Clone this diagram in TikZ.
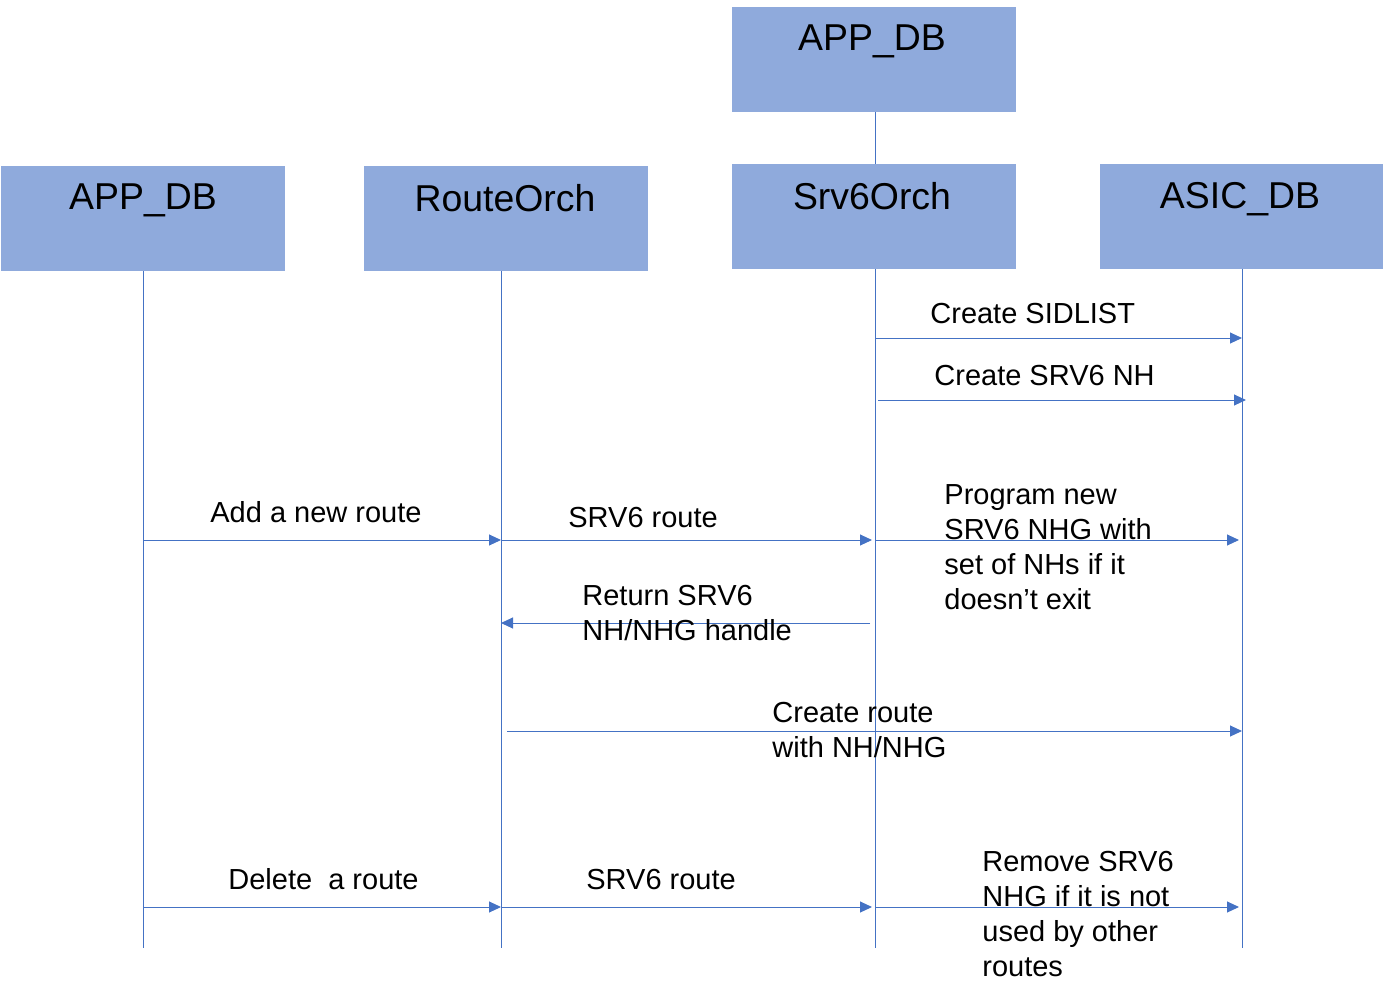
\documentclass[tikz,border=0pt]{standalone}
\usepackage{fontspec}
\setmainfont{Liberation Sans}
\usetikzlibrary{arrows.meta}
\definecolor{boxblue}{HTML}{8FAADC}
\definecolor{lineblue}{HTML}{4472C4}
\tikzset{
  actor/.style={fill=boxblue, minimum width=142pt, minimum height=52.5pt, inner sep=0pt},
  title/.style={font=\fontsize{18.7}{22}\selectfont, anchor=north},
  life/.style={draw=lineblue, line width=0.5pt},
  msg/.style={draw=lineblue, line width=0.5pt, -{Triangle[length=6pt,width=5.5pt]}},
  lbl/.style={font=\fontsize{14.5}{17.5}\selectfont, inner sep=0pt, align=left}
}
\begin{document}
\begin{tikzpicture}[x=0.5pt,y=-0.5pt]
\useasboundingbox (0,0) rectangle (1383,1002);
% boxes
\node[actor] (appTop) at (874,59.5) {};
\node[actor] (app) at (143,218.5) {};
\node[actor] (route) at (506,218.5) {};
\node[actor] (srv) at (874,216.5) {};
\node[actor] (asic) at (1241.5,216.5) {};
\node[title] (tAppTop) at (872,18) {APP\_DB};
\node[title] (tApp) at (143,177) {APP\_DB};
\node[title] (tRoute) at (505,177) {RouteOrch};
\node[title] (tSrv) at (872,175) {Srv6Orch};
\node[title] (tAsic) at (1240,175) {ASIC\_DB};
% lifelines
\coordinate (appE) at (143,948);
\coordinate (routeE) at (501,948);
\coordinate (srvE) at (875,948);
\coordinate (asicE) at (1242,948);
\draw[life] (appTop.south -| srvE) -- (srv.north -| srvE);
\draw[life] (app.south -| appE) -- (appE);
\draw[life] (route.south -| routeE) -- (routeE);
\draw[life] (srv.south -| srvE) -- (srvE);
\draw[life] (asic.south -| asicE) -- (asicE);
% messages
\draw[msg] (srvE |- 0,338) -- (asicE |- 0,338);
\node[lbl, anchor=base west] (m1) at (930,323) {Create SIDLIST};
\draw[msg] ([xshift=1.5pt]srvE |- 0,400) -- ([xshift=2pt]asicE |- 0,400);
\node[lbl, anchor=base west] (m2) at (934,385) {Create SRV6 NH};
\draw[msg] (appE |- 0,540) -- (routeE |- 0,540);
\node[lbl, anchor=base west] (m3) at (210,522) {Add a new route};
\draw[msg] (routeE |- 0,540) -- ([xshift=-1.5pt]srvE |- 0,540);
\node[lbl, anchor=base west] (m4) at (568,527) {SRV6 route};
\draw[msg] (srvE |- 0,540) -- ([xshift=-1.5pt]asicE |- 0,540);
\node[lbl, anchor=north west] (m5) at (944,484) {Program new\\SRV6 NHG with\\set of NHs if it\\doesn’t exit};
\draw[msg] ([xshift=-2.5pt]srvE |- 0,623) -- (routeE |- 0,623);
\node[lbl, anchor=north west] (m6) at (582,585) {Return SRV6\\NH/NHG handle};
\draw[msg] ([xshift=3pt]routeE |- 0,731) -- (asicE |- 0,731);
\node[lbl, anchor=north west] (m7) at (772,702) {Create route\\with NH/NHG};
\draw[msg] (appE |- 0,907) -- (routeE |- 0,907);
\node[lbl, anchor=base west] (m8) at (228,889) {Delete\ \ a route};
\draw[msg] (routeE |- 0,907) -- ([xshift=-1.5pt]srvE |- 0,907);
\node[lbl, anchor=base west] (m9) at (586,889) {SRV6 route};
\draw[msg] (srvE |- 0,907) -- ([xshift=-1.5pt]asicE |- 0,907);
\node[lbl, anchor=north west] (m10) at (982,851) {Remove SRV6\\NHG if it is not\\used by other\\routes};
\end{tikzpicture}
\end{document}
